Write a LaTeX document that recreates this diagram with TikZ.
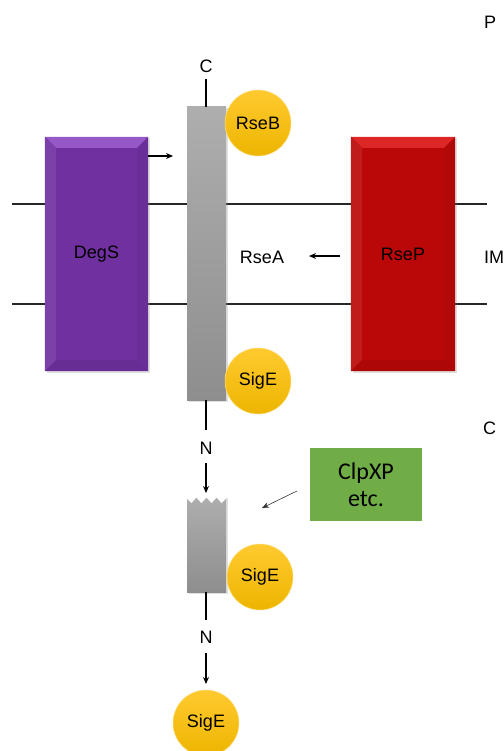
\documentclass[tikz,border=0pt]{standalone}
\usepackage{fontspec}
\setmainfont{Liberation Sans}
\newfontfamily\calib{Carlito}
\usetikzlibrary{calc,arrows.meta,shadows}
\definecolor{degsc}{HTML}{7030A0}
\definecolor{degsl}{HTML}{9558C6}
\definecolor{rsepc}{HTML}{BA0808}
\definecolor{rsepl}{HTML}{DD2626}
\definecolor{clpc}{HTML}{70AD47}
\definecolor{yelt}{HTML}{FFCA30}
\definecolor{yelb}{HTML}{EDB500}
\definecolor{grt}{HTML}{AEAEAE}
\definecolor{grb}{HTML}{8E8E8E}
\tikzset{
  mem/.style={line width=1.2pt, black!85},
  lbl/.style={font=\fontsize{18}{20}\selectfont, inner sep=0pt},
  boxnode/.style={minimum width=103pt, minimum height=234pt, inner sep=0pt, font=\fontsize{18}{20}\selectfont,
     drop shadow={opacity=0.25, shadow xshift=1.5pt, shadow yshift=-1.5pt}},
  ball/.style={circle, minimum size=66pt, inner sep=0pt, top color=yelt, bottom color=yelb, draw=yelt!60!white, line width=0.5pt, font=\fontsize{18}{20}\selectfont},
  bar/.style={minimum width=39pt, inner sep=0pt, top color=grt, bottom color=grb,
     drop shadow={opacity=0.25, shadow xshift=1.5pt, shadow yshift=-1.5pt}},
  conn/.style={line width=1.3pt, black},
  arr/.style={line width=1.3pt, black, -{Stealth[length=7pt,width=6pt]}},
  thinarr/.style={line width=0.6pt, black!80, -{Stealth[length=7pt,width=5.5pt]}},
}
\begin{document}
\begin{tikzpicture}[x=1pt,y=-1pt]
\useasboundingbox (0,0) rectangle (503,751);
% membrane lines
\coordinate (mL1) at (12,204); \coordinate (mR1) at (487,204);
\coordinate (mL2) at (12,304); \coordinate (mR2) at (487,304);
\draw[mem] (mL1) -- (mR1);
\draw[mem] (mL2) -- (mR2);
% side labels
\node[lbl, anchor=west] (lP) at (484,22) {P};
\node[lbl, anchor=west] (lIM) at (484,257) {IM};
\node[lbl, anchor=west] (lC) at (483,428) {C};
% DegS
\node[boxnode, fill=degsc] (degs) at (96.5,254) {};
\fill[degsl] (degs.north west) -- (degs.north east) -- ($(degs.north east)+(-11,11)$) -- ($(degs.north west)+(11,11)$) -- cycle;
\fill[degsc!92!white] (degs.north west) -- ($(degs.north west)+(11,11)$) -- ($(degs.south west)+(11,-11)$) -- (degs.south west) -- cycle;
\fill[degsc!95!black] (degs.north east) -- ($(degs.north east)+(-11,11)$) -- ($(degs.south east)+(-11,-11)$) -- (degs.south east) -- cycle;
\fill[degsc!93!black] (degs.south west) -- ($(degs.south west)+(11,-11)$) -- ($(degs.south east)+(-11,-11)$) -- (degs.south east) -- cycle;
\node[lbl] (degst) at (degs.center) {DegS};
% RseP
\node[boxnode, fill=rsepc, minimum width=104pt] (rsep) at (403,254) {};
\fill[rsepl] (rsep.north west) -- (rsep.north east) -- ($(rsep.north east)+(-11,11)$) -- ($(rsep.north west)+(11,11)$) -- cycle;
\fill[rsepc!92!white] (rsep.north west) -- ($(rsep.north west)+(11,11)$) -- ($(rsep.south west)+(11,-11)$) -- (rsep.south west) -- cycle;
\fill[rsepc!95!black] (rsep.north east) -- ($(rsep.north east)+(-11,11)$) -- ($(rsep.south east)+(-11,-11)$) -- (rsep.south east) -- cycle;
\fill[rsepc!93!black] (rsep.south west) -- ($(rsep.south west)+(11,-11)$) -- ($(rsep.south east)+(-11,-11)$) -- (rsep.south east) -- cycle;
\node[lbl] (rsept) at (rsep.center) {RseP};
% RseA bar
\node[bar, minimum height=293pt] (rsea) at (206.5,253.5) {};
\node[lbl] (rseat) at (262,257) {RseA};
\node[lbl] (cTop) at (206,66) {C};
\draw[conn] (206,79) -- (rsea.north -| 206,0);
\node[ball] (rseb) at (258,123) {RseB};
\node[ball] (sige1) at (258,381) {SigE};
% arrows near membrane
\coordinate (dArrS) at (148,156); \coordinate (dArrE) at (173,156);
\draw[arr] (dArrS) -- (dArrE);
\coordinate (pArrS) at (340,256); \coordinate (pArrE) at (309,256);
\draw[arr] (pArrS) -- (pArrE);
% N1
\node[lbl] (n1) at (206,448) {N};
\draw[conn] (rsea.south -| 206,0) -- (206,430);
\coordinate (a1s) at (206,463); \coordinate (a1e) at (206,493);
\draw[arr] (a1s) -- (a1e);
% fragment
\node[bar, minimum height=96pt] (frag) at (206.5,544) {};
\fill[white] (186,495) -- (226.6,495) -- (226.6,498)
  -- (221.6,503) -- (216.6,497.5) -- (211.6,503) -- (206.5,497.5) -- (201.4,503) -- (196.4,497.5) -- (191.4,503) -- (186,497.5) -- cycle;
\node[ball] (sige2) at (260,577) {SigE};
% ClpXP
\node[fill=clpc, minimum width=112pt, minimum height=73pt, inner sep=0pt, align=center,
  font=\calib\fontsize{24}{27}\selectfont] (clp) at (366,484.5) {ClpXP\\etc.};
\coordinate (cArrS) at (297,491); \coordinate (cArrE) at (262,508);
\draw[thinarr] (cArrS) -- (cArrE);
% N2
\draw[conn] (frag.south -| 206,0) -- (206,620);
\node[lbl] (n2) at (206,637) {N};
\coordinate (a2s) at (206,653); \coordinate (a2e) at (206,684);
\draw[arr] (a2s) -- (a2e);
\node[ball] (sige3) at (206,723) {SigE};
\end{tikzpicture}
\end{document}
